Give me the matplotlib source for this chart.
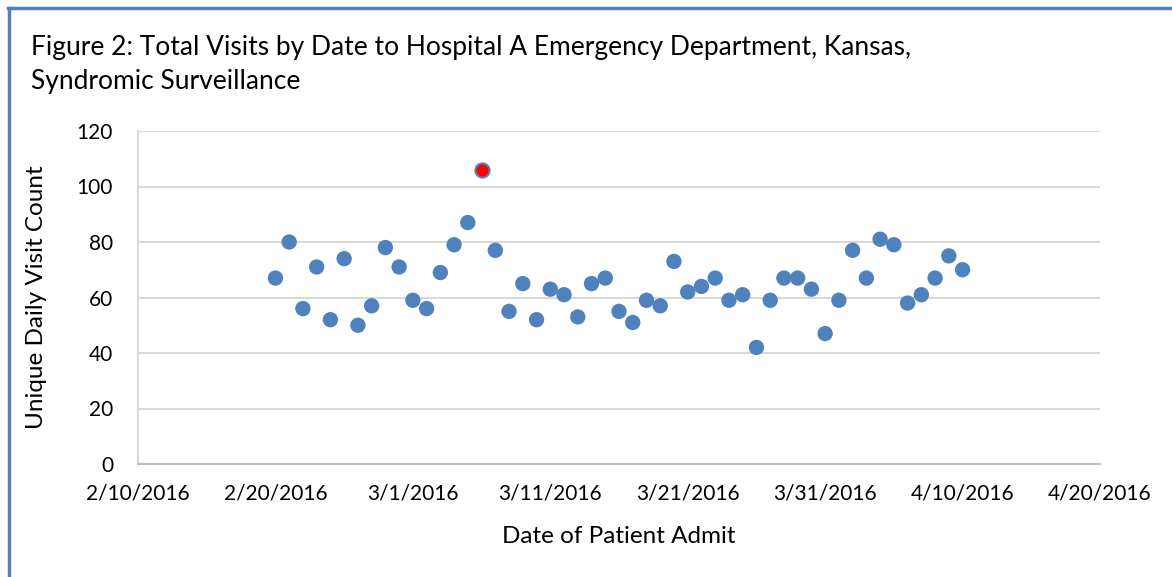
import numpy as np
import matplotlib
matplotlib.use('Agg')
import matplotlib.pyplot as plt
import matplotlib.dates as mdates
from matplotlib.lines import Line2D
import datetime as dt

plt.rcParams['font.family'] = ['Lato', 'DejaVu Sans']

# datos: visitas diarias desde 2/20/2016
start = dt.date(2016, 2, 20)
visits = [67, 80, 56, 71, 52, 74, 50, 57, 78, 71,
          59, 56, 69, 79, 87, 106, 77, 55, 65, 52,
          63, 61, 53, 65, 67, 55, 51, 59, 57, 73,
          62, 64, 67, 59, 61, 42, 59, 67, 67, 63,
          47, 59, 77, 67, 81, 79, 58, 61, 67, 75, 70]
dates = [start + dt.timedelta(days=i) for i in range(len(visits))]
outlier_date = dt.date(2016, 3, 6)
tick_dates = [dt.date(2016, 2, 10), dt.date(2016, 2, 20), dt.date(2016, 3, 1),
              dt.date(2016, 3, 11), dt.date(2016, 3, 21), dt.date(2016, 3, 31),
              dt.date(2016, 4, 10), dt.date(2016, 4, 20)]
tick_labels = ['2/10/2016', '2/20/2016', '3/1/2016', '3/11/2016',
               '3/21/2016', '3/31/2016', '4/10/2016', '4/20/2016']
yticks = [0, 20, 40, 60, 80, 100, 120]

W, H = 1172, 577
fig = plt.figure(figsize=(W/100, H/100), dpi=100)
ax = fig.add_axes([138/W, 1-464/H, (1100-138)/W, (464-131)/H])

blue = '#4F81BD'
normal = [(d, v) for d, v in zip(dates, visits) if d != outlier_date]
odd = [(d, v) for d, v in zip(dates, visits) if d == outlier_date]
ax.scatter([d for d, v in normal], [v for d, v in normal], s=122, color=blue,
           edgecolors='none', zorder=3, clip_on=False)
ax.scatter([d for d, v in odd], [v for d, v in odd], s=104, color='#FF0000',
           edgecolors=blue, linewidths=1.5, zorder=4, clip_on=False)

ax.set_xlim(tick_dates[0], tick_dates[-1])
ax.set_ylim(0, 120)
ax.set_xticks(tick_dates)
ax.set_xticklabels(tick_labels)
ax.set_yticks(yticks)
ax.tick_params(length=0, labelsize=15, colors='black')
ax.tick_params(axis='x', pad=14)
ax.tick_params(axis='y', pad=18)
ax.grid(axis='y', color='#D9D9D9', linewidth=1.5)
ax.set_axisbelow(True)
for s in ['top', 'right']:
    ax.spines[s].set_visible(False)
ax.spines['left'].set_color('#D9D9D9')
ax.spines['left'].set_linewidth(1.5)
ax.spines['bottom'].set_color('#BFBFBF')
ax.spines['bottom'].set_linewidth(1.5)

ax.set_xlabel('Date of Patient Admit', fontsize=17.5, labelpad=16)
ax.set_ylabel('Unique Daily Visit Count', fontsize=17.5, labelpad=21)

fig.text(31/W, 1-47/H, 'Figure 2: Total Visits by Date to Hospital A Emergency Department, Kansas,',
         fontsize=19, va='center', ha='left')
fig.text(31/W, 1-81/H, 'Syndromic Surveillance', fontsize=19, va='center', ha='left')

# marco azul
fig.add_artist(Line2D([8.5/W, 8.5/W], [0, 1-7.5/H], color='#4F81BD', linewidth=2.5,
                      transform=fig.transFigure))
fig.add_artist(Line2D([7.5/W, 1], [1-7.5/H, 1-7.5/H], color='#4F81BD', linewidth=2.5,
                      transform=fig.transFigure))

fig.savefig('out.png', dpi=100)
